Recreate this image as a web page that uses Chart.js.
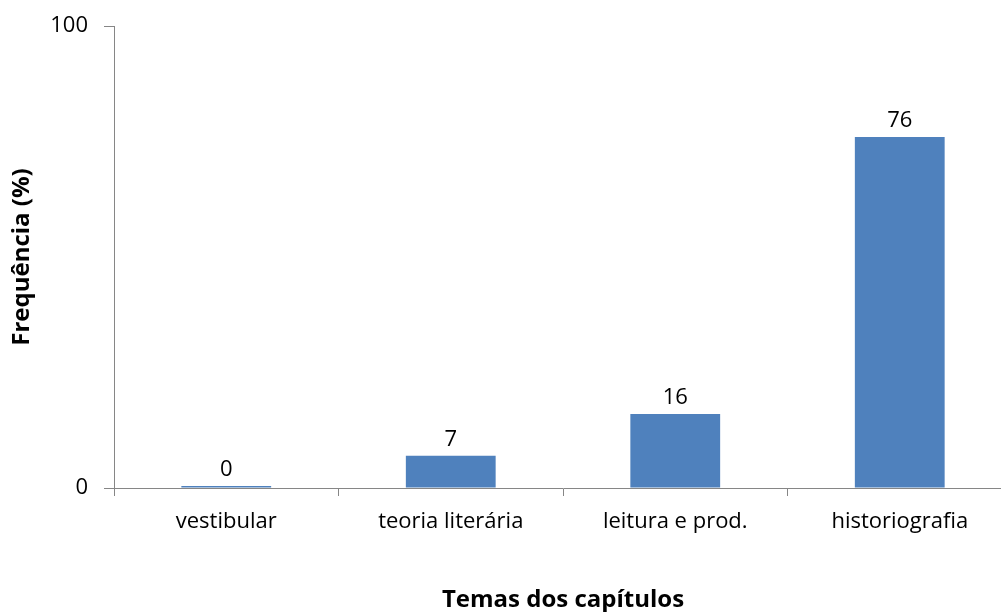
<!DOCTYPE html>
<html>
<head>
<meta charset="utf-8">
<script src="https://cdn.jsdelivr.net/npm/chart.js@4"></script>
<style>
  html, body { margin: 0; padding: 0; background: #fff; overflow: hidden; }
  #wrap { width: 1012px; height: 612px; }
</style>
</head>
<body>
<div id="wrap"><canvas id="chart" width="1012" height="612"></canvas></div>
<script>
const categories = ['vestibular', 'teoria literária', 'leitura e prod.', 'historiografia'];
const frequencia = [0, 7, 16, 76];
const yTicks = [0, 100];

const FONT = '"Open Sans", Calibri, sans-serif';
const AXIS = '#868686';

// numbers above the bars
const valueLabels = {
  id: 'valueLabels',
  afterDatasetsDraw(chart) {
    const ctx = chart.ctx;
    const meta = chart.getDatasetMeta(0);
    ctx.save();
    ctx.font = '22px ' + FONT;
    ctx.fillStyle = '#000';
    ctx.textAlign = 'center';
    ctx.textBaseline = 'alphabetic';
    meta.data.forEach((bar, i) => {
      ctx.fillText(String(frequencia[i]), bar.x, bar.y - 10);
    });
    ctx.restore();
  }
};

new Chart(document.getElementById('chart'), {
  type: 'bar',
  data: {
    labels: categories,
    datasets: [{
      data: frequencia,
      backgroundColor: '#4f81bd',
      barPercentage: 0.4,
      categoryPercentage: 1,
      minBarLength: 2
    }]
  },
  options: {
    responsive: false,
    animation: false,
    layout: { padding: { top: 26, right: 0, left: 0, bottom: 0 } },
    plugins: { legend: { display: false }, tooltip: { enabled: false } },
    scales: {
      x: {
        grid: { offset: true, drawOnChartArea: false, color: AXIS, tickLength: 8 },
        border: { color: AXIS },
        ticks: { color: '#000', font: { family: FONT, size: 22 }, padding: 13, maxRotation: 0 },
        title: { display: true, text: 'Temas dos capítulos', color: '#000', font: { family: FONT, size: 24, weight: 'bold' }, padding: { top: 0, bottom: -3 } },
        afterFit(scale) { scale.height = 124; }
      },
      y: {
        min: 0,
        max: 100,
        afterBuildTicks(scale) { scale.ticks = yTicks.map(v => ({ value: v })); },
        grid: { drawOnChartArea: false, color: AXIS, tickLength: 10 },
        border: { color: AXIS },
        ticks: { color: '#000', font: { family: FONT, size: 22 }, padding: 16 },
        title: { display: true, text: 'Frequência (%)', color: '#000', font: { family: FONT, size: 24, weight: 'bold' }, padding: 8 },
        afterFit(scale) {
          scale.width = 114;
          scale.paddingTop = 0;
          scale.paddingBottom = 0;
        }
      }
    }
  },
  plugins: [valueLabels]
});
</script>
</body>
</html>
